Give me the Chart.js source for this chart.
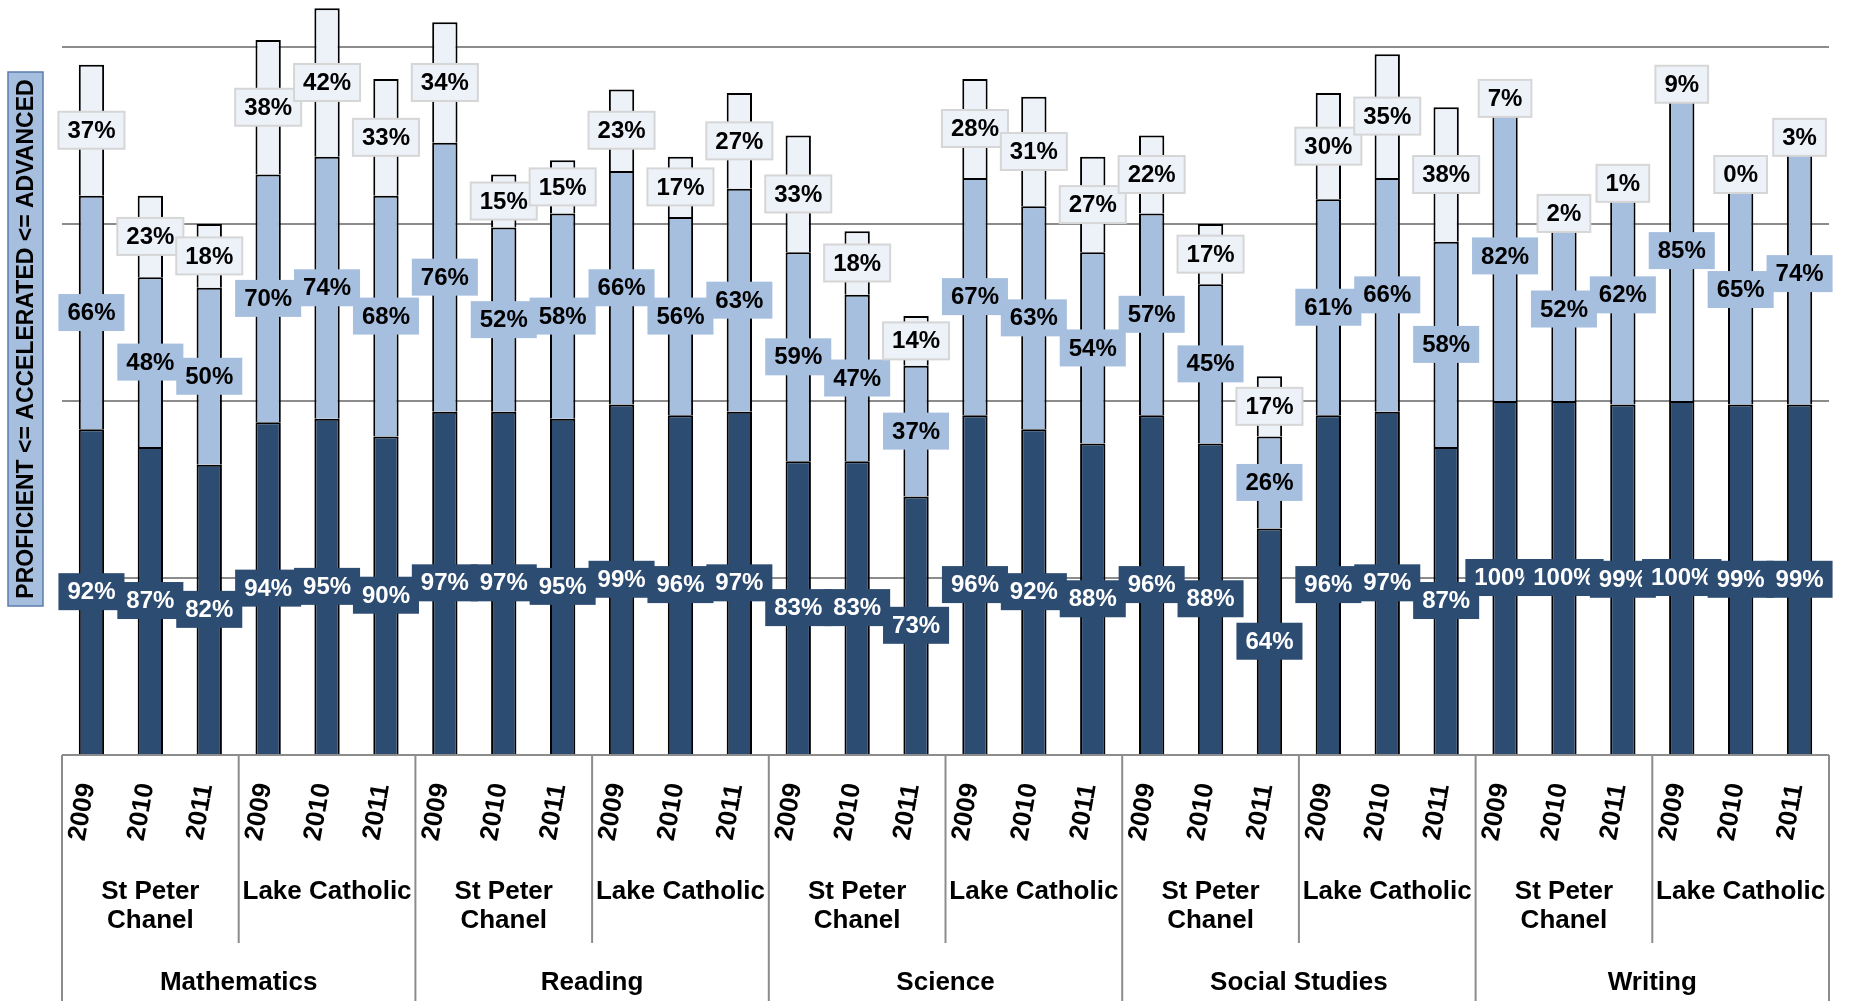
<!DOCTYPE html>
<html>
<head>
<meta charset="utf-8">
<script src="https://cdn.jsdelivr.net/npm/chart.js@4.4.1/dist/chart.umd.min.js"></script>
<style>
  html, body { margin: 0; padding: 0; background: #fff; }
  #wrap { width: 1851px; height: 1001px; position: relative; }
</style>
</head>
<body>
<div id="wrap"><canvas id="chart"></canvas></div>
<script>
// ---- data ----
const subjects = ['Mathematics', 'Reading', 'Science', 'Social Studies', 'Writing'];
const schools = [['St Peter', 'Chanel'], ['Lake Catholic']]; // lines of each school label
const years = ['2009', '2010', '2011'];

// one value per bar, in order subject > school > year
const proficient = [92, 87, 82, 94, 95, 90, 97, 97, 95, 99, 96, 97, 83, 83, 73,
                    96, 92, 88, 96, 88, 64, 96, 97, 87, 100, 100, 99, 100, 99, 99];
const accelerated = [66, 48, 50, 70, 74, 68, 76, 52, 58, 66, 56, 63, 59, 47, 37,
                     67, 63, 54, 57, 45, 26, 61, 66, 58, 82, 52, 62, 85, 65, 74];
const advanced = [37, 23, 18, 38, 42, 33, 34, 15, 15, 23, 17, 27, 33, 18, 14,
                  28, 31, 27, 22, 17, 17, 30, 35, 38, 7, 2, 1, 9, 0, 3];

const gridValues = [0, 50, 100, 150, 200];
const yTitle = 'PROFICIENT <= ACCELERATED <= ADVANCED';

// ---- styles ----
const FONT = '"Liberation Sans", Arial, sans-serif';
const DARK = '#2d4c72';
const MID = '#a7bfdf';
const LIGHT = '#edf2f9';
const LINE = '#8c8c8c';

const labels = [];
subjects.forEach(s => schools.forEach(sc => years.forEach(y => labels.push(y))));

// value labels drawn as boxes centred on each segment
const boxLabels = {
  id: 'boxLabels',
  afterDatasetsDraw(chart) {
    const ctx = chart.ctx;
    const styles = [
      { fill: DARK, text: '#fff', stroke: null },
      { fill: MID, text: '#000', stroke: null },
      { fill: LIGHT, text: '#000', stroke: '#d6d6d6' },
    ];
    ctx.save();
    ctx.font = 'bold 24px ' + FONT;
    ctx.textAlign = 'center';
    ctx.textBaseline = 'middle';
    chart.data.datasets.forEach((ds, di) => {
      const st = styles[di];
      chart.getDatasetMeta(di).data.forEach((el, i) => {
        const txt = ds.data[i] + '%';
        const cy = (el.y + el.base) / 2;
        const w = ctx.measureText(txt).width + 18;
        const h = 37;
        ctx.fillStyle = st.fill;
        ctx.fillRect(el.x - w / 2, cy - h / 2, w, h);
        if (st.stroke) {
          ctx.strokeStyle = st.stroke;
          ctx.lineWidth = 2;
          ctx.strokeRect(el.x - w / 2, cy - h / 2, w, h);
        }
        ctx.fillStyle = st.text;
        ctx.fillText(txt, el.x, cy + 1);
      });
    });
    ctx.restore();
  }
};

// three level category axis + boxed y title
const groupAxis = {
  id: 'groupAxis',
  afterDraw(chart) {
    const ctx = chart.ctx;
    const x = chart.scales.x;
    const area = chart.chartArea;
    const top = area.bottom;
    const bottom = chart.height;
    const n = labels.length;
    const step = (area.right - area.left) / n;
    const edge = i => area.left + i * step;

    ctx.save();
    ctx.strokeStyle = LINE;
    ctx.lineWidth = 2;
    ctx.fillStyle = '#000';
    ctx.textAlign = 'center';
    ctx.textBaseline = 'middle';

    // years
    ctx.font = 'bold 26px ' + FONT;
    labels.forEach((lab, i) => {
      ctx.save();
      ctx.translate(x.getPixelForValue(i) - 9, 812);
      ctx.rotate(-80 * Math.PI / 180);
      ctx.fillText(lab, 0, 0);
      ctx.restore();
    });

    // schools and subjects
    ctx.font = 'bold 26px ' + FONT;
    const perSubject = schools.length * years.length;
    subjects.forEach((sub, si) => {
      schools.forEach((lines, ki) => {
        const i0 = si * perSubject + ki * years.length;
        const cx = (edge(i0) + edge(i0 + years.length)) / 2;
        lines.forEach((ln, li) => ctx.fillText(ln, cx, 892 + li * 29));
        if (ki > 0) {
          ctx.beginPath();
          ctx.moveTo(edge(i0), top);
          ctx.lineTo(edge(i0), 943);
          ctx.stroke();
        }
      });
      const i0 = si * perSubject;
      ctx.fillText(sub, (edge(i0) + edge(i0 + perSubject)) / 2, 983);
      ctx.beginPath();
      ctx.moveTo(edge(i0), top);
      ctx.lineTo(edge(i0), bottom);
      ctx.stroke();
    });
    ctx.beginPath();
    ctx.moveTo(edge(n), top);
    ctx.lineTo(edge(n), bottom);
    ctx.stroke();

    // y title box
    ctx.fillStyle = MID;
    ctx.fillRect(8, 72, 35, 534);
    ctx.strokeStyle = '#5b7cad';
    ctx.lineWidth = 1.5;
    ctx.strokeRect(8, 72, 35, 534);
    ctx.fillStyle = '#000';
    ctx.font = 'bold 23px ' + FONT;
    ctx.translate(26, 339);
    ctx.rotate(-Math.PI / 2);
    ctx.fillText(yTitle, 0, 1);
    ctx.restore();
  }
};

const whiteBg = {
  id: 'whiteBg',
  beforeDraw(chart) {
    const ctx = chart.ctx;
    ctx.save();
    ctx.fillStyle = '#fff';
    ctx.fillRect(0, 0, chart.width, chart.height);
    ctx.restore();
  }
};

const barStyle = {
  stack: 's',
  borderColor: '#000',
  borderWidth: 2,
  barPercentage: 0.43,
  categoryPercentage: 1,
};

new Chart(document.getElementById('chart'), {
  type: 'bar',
  data: {
    labels: labels,
    datasets: [
      { label: 'Proficient', data: proficient, backgroundColor: DARK, ...barStyle },
      { label: 'Accelerated', data: accelerated, backgroundColor: MID, ...barStyle },
      { label: 'Advanced', data: advanced, backgroundColor: LIGHT, ...barStyle },
    ],
  },
  options: {
    responsive: true,
    maintainAspectRatio: false,
    animation: false,
    layout: { padding: { left: 62, right: 22, top: 0, bottom: 246 } },
    plugins: {
      legend: { display: false },
      tooltip: { enabled: false },
    },
    scales: {
      x: { display: false, stacked: true },
      y: {
        stacked: true,
        min: 0,
        max: 213.3,
        afterBuildTicks: (s) => { s.ticks = gridValues.map(v => ({ value: v })); },
        afterFit: (s) => { s.width = 0; },
        ticks: { display: false },
        border: { display: false },
        grid: { color: LINE, lineWidth: 2, drawTicks: false },
      },
    },
  },
  plugins: [whiteBg, boxLabels, groupAxis],
});
</script>
</body>
</html>
